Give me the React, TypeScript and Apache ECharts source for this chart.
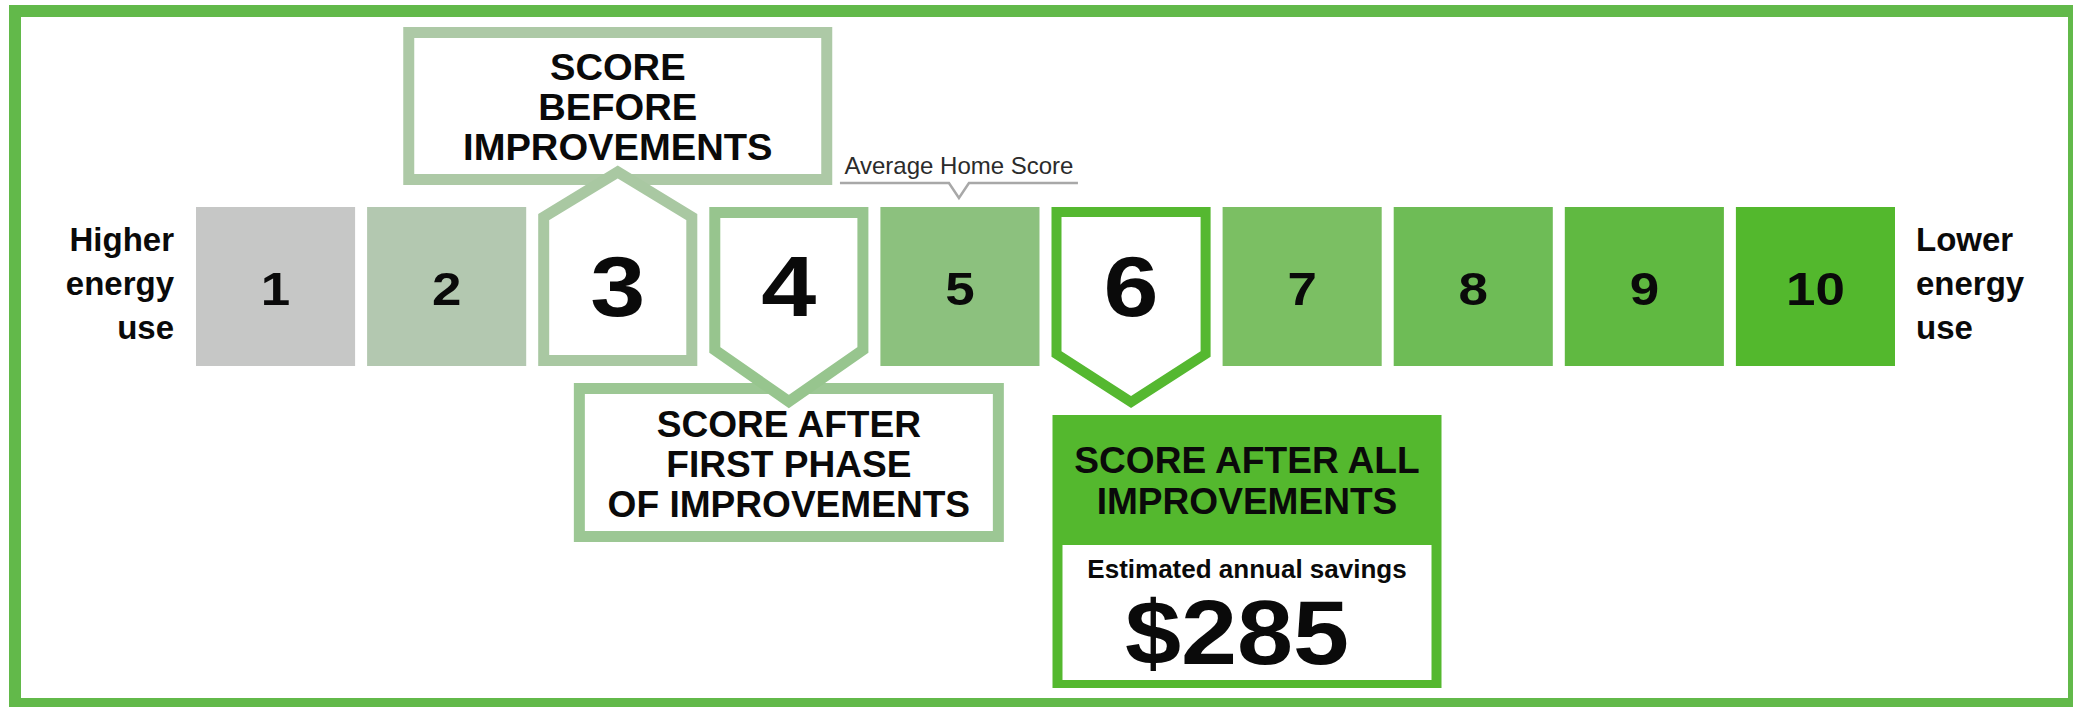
import React, { useEffect, useRef } from "react";
import * as echarts from "echarts";

// ---- data ----
const scores = ["1", "2", "3", "4", "5", "6", "7", "8", "9", "10"];
const cellColors = ["#c6c7c6", "#b3c8b0", "#a9c8a2", "#97c58e", "#8cc17e", "#55b830", "#7bbf63", "#6ebc56", "#60b941", "#53b82d"];
const beforeScore = "3";
const firstPhaseScore = "4";
const finalScore = "6";
const averageScore = "5";
const beforeLabel = ["SCORE", "BEFORE", "IMPROVEMENTS"];
const firstPhaseLabel = ["SCORE AFTER", "FIRST PHASE", "OF IMPROVEMENTS"];
const finalLabel = ["SCORE AFTER ALL", "IMPROVEMENTS"];
const savingsLabel = "Estimated annual savings";
const savingsValue = "$285";
const averageLabel = "Average Home Score";
const leftLabel = ["Higher", "energy", "use"];
const rightLabel = ["Lower", "energy", "use"];

const FONT = '"Liberation Sans", Arial, sans-serif';
const BEFORE_BOX = "#adc9a6";
const FIRST_BOX = "#9cc794";
const FINAL_BOX = "#54b82e";
const BORDER = "#62b94a";

function txt(x: number, y: number, text: string, size: number, opts: any = {}) {
  return {
    type: "text",
    x,
    y,
    scaleX: opts.scaleX ?? 1,
    style: {
      text,
      fill: opts.fill ?? "#0a0a0a",
      fontSize: size,
      fontWeight: opts.weight ?? "bold",
      fontFamily: FONT,
      align: opts.align ?? "center",
      verticalAlign: "middle",
      lineHeight: opts.lineHeight ?? size,
    },
  };
}

function renderItem(params: any, api: any) {
  const idx = params.dataIndex;
  const score = scores[idx];
  const [cx, yTop] = api.coord([api.value(0), 1]);
  const [, yBot] = api.coord([api.value(0), 0]);
  const band = api.size([1, 0])[0];
  const w = band - 12;
  const x0 = cx - w / 2;
  const x1 = cx + w / 2;
  const children: any[] = [];
  const color = cellColors[idx];

  if (score === beforeScore) {
    const h = 5.5;
    children.push({
      type: "rect",
      shape: { x: cx - 209, y: yTop - 174.5, width: 418, height: 147 },
      style: { fill: "#fff", stroke: BEFORE_BOX, lineWidth: 11 },
    });
    children.push({
      type: "polygon",
      shape: {
        points: [
          [x0 + h, yBot - h],
          [x0 + h, yTop + 10],
          [cx, yTop - 35],
          [x1 - h, yTop + 10],
          [x1 - h, yBot - h],
        ],
      },
      style: { fill: "#fff", stroke: color, lineWidth: 11, lineJoin: "miter" },
    });
    children.push(txt(cx, yTop - 100, beforeLabel.join("\n"), 36, { lineHeight: 40, scaleX: 1.06 }));
    children.push(txt(cx, yTop + 79, score, 86, { scaleX: 1.15 }));
  } else if (score === firstPhaseScore) {
    const h = 5.5;
    children.push({
      type: "rect",
      shape: { x: cx - 209.5, y: yBot + 22.5, width: 419, height: 148 },
      style: { fill: "#fff", stroke: FIRST_BOX, lineWidth: 11 },
    });
    children.push({
      type: "polygon",
      shape: {
        points: [
          [x0 + h, yTop + h],
          [x0 + h, yBot - 16],
          [cx, yBot + 35.5],
          [x1 - h, yBot - 16],
          [x1 - h, yTop + h],
        ],
      },
      style: { fill: "#fff", stroke: color, lineWidth: 11, lineJoin: "miter" },
    });
    children.push(txt(cx, yBot + 98.5, firstPhaseLabel.join("\n"), 36, { lineHeight: 40, scaleX: 1.03 }));
    children.push(txt(cx, yTop + 79, score, 86, { scaleX: 1.15 }));
  } else if (score === finalScore) {
    const h = 5;
    const bx = x0 + 1;
    const bw = 389;
    children.push({
      type: "polygon",
      shape: {
        points: [
          [x0 + h, yTop + h],
          [x0 + h, yBot - 12],
          [cx, yBot + 36],
          [x1 - h, yBot - 12],
          [x1 - h, yTop + h],
        ],
      },
      style: { fill: "#fff", stroke: color, lineWidth: 10, lineJoin: "miter" },
    });
    children.push({
      type: "rect",
      shape: { x: bx, y: yBot + 49, width: bw, height: 273 },
      style: { fill: FINAL_BOX },
    });
    children.push({
      type: "rect",
      shape: { x: bx + 10, y: yBot + 179, width: bw - 20, height: 135 },
      style: { fill: "#fff" },
    });
    children.push(txt(bx + bw / 2, yBot + 115, finalLabel.join("\n"), 36, { lineHeight: 41, scaleX: 1.03 }));
    children.push(txt(bx + bw / 2, yBot + 203, savingsLabel, 26));
    children.push(txt(bx + bw / 2 - 10, yBot + 267, savingsValue, 90, { scaleX: 1.12 }));
    children.push(txt(cx, yTop + 79, score, 86, { scaleX: 1.15 }));
  } else {
    children.push({
      type: "rect",
      shape: { x: x0, y: yTop, width: w, height: yBot - yTop },
      style: { fill: color },
    });
    children.push(txt(cx, yTop + 82, score, 46, { scaleX: 1.15 }));
  }

  if (score === averageScore) {
    children.push(txt(cx - 1, yTop - 42, averageLabel, 24, { weight: "normal", fill: "#2b2b2b" }));
    children.push({
      type: "polyline",
      shape: {
        points: [
          [cx - 120, yTop - 24],
          [cx - 11, yTop - 24],
          [cx - 1, yTop - 9],
          [cx + 9, yTop - 24],
          [cx + 118, yTop - 24],
        ],
      },
      style: { fill: null, stroke: "#a8a8a8", lineWidth: 2.5 },
    });
  }

  if (idx === 0) {
    children.push(txt(x0 - 22, yTop + 76, leftLabel.join("\n"), 33, { align: "right", lineHeight: 44 }));
  }
  if (idx === scores.length - 1) {
    children.push(txt(x1 + 21, yTop + 76, rightLabel.join("\n"), 33, { align: "left", lineHeight: 44 }));
  }

  return { type: "group", children };
}

export default function App() {
  const ref = useRef<HTMLDivElement>(null);
  useEffect(() => {
    if (!ref.current) return;
    const chart = echarts.init(ref.current, null, { renderer: "svg" });
    chart.setOption({
      animation: false,
      backgroundColor: "#ffffff",
      grid: { left: 190, width: 1711, top: 207, height: 159 },
      xAxis: { type: "category", data: scores, show: false, boundaryGap: true },
      yAxis: { type: "value", min: 0, max: 1, show: false },
      graphic: [
        {
          type: "rect",
          z: -10,
          shape: { x: 15, y: 11, width: 2059, height: 693 },
          style: { fill: "#fff", stroke: BORDER, lineWidth: 12 },
        },
      ],
      series: [
        {
          type: "custom",
          clip: false,
          renderItem,
          data: scores.map((s, i) => [i, 1]),
          encode: { x: 0, y: 1 },
          z: 5,
        },
      ],
    });
    return () => chart.dispose();
  }, []);
  return (
    <div
      ref={ref}
      style={{ position: "absolute", left: 0, top: 0, width: 2073, height: 707, background: "#fff" }}
    />
  );
}
